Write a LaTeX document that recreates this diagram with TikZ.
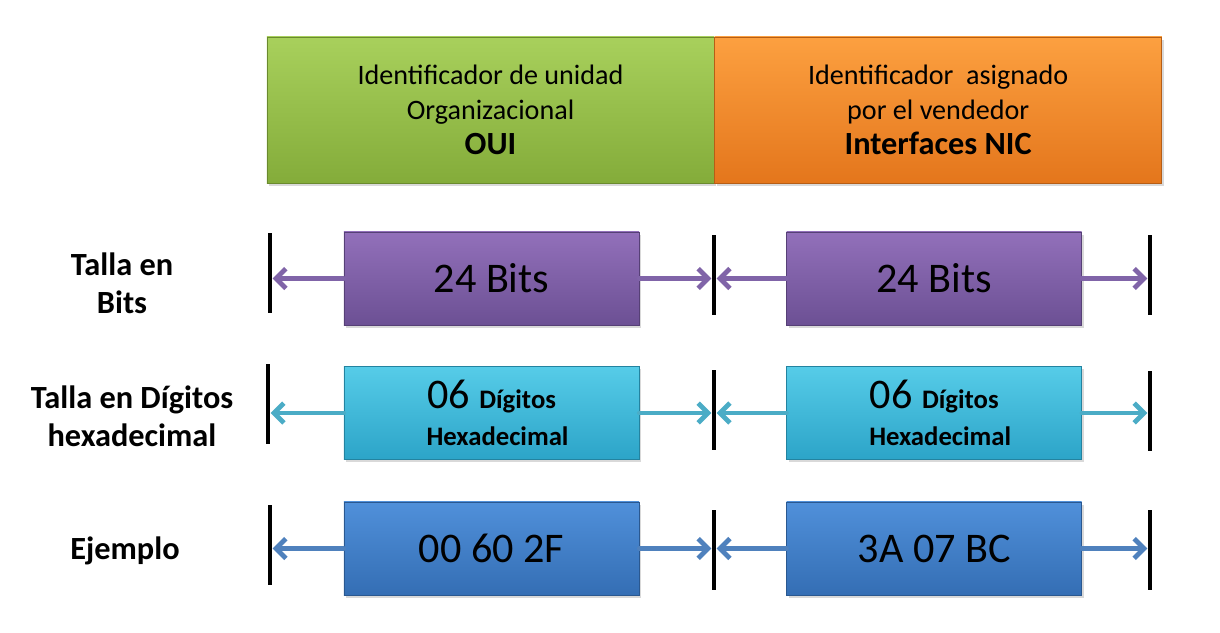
\documentclass[tikz,border=0pt]{standalone}
\usepackage{fontspec}
\setmainfont{Carlito}
\usetikzlibrary{arrows.meta,shadows,positioning}
\definecolor{ouiT}{RGB}{168,208,92}
\definecolor{ouiB}{RGB}{132,172,58}
\definecolor{nicT}{RGB}{252,160,64}
\definecolor{nicB}{RGB}{228,118,28}
\definecolor{bitT}{RGB}{146,112,186}
\definecolor{bitB}{RGB}{108,80,148}
\definecolor{hexT}{RGB}{86,204,232}
\definecolor{hexB}{RGB}{44,164,200}
\definecolor{ejT}{RGB}{80,144,218}
\definecolor{ejB}{RGB}{52,110,180}
\definecolor{bitA}{RGB}{128,100,168}
\definecolor{hexA}{RGB}{75,172,198}
\definecolor{ejA}{RGB}{79,129,189}

\begin{document}
\begin{tikzpicture}[x=0.025cm, y=-0.025cm,
    box/.style={draw=#1B!80!black, line width=0.4pt, top color=#1T, bottom color=#1B,
                drop shadow={shadow xshift=1.5pt, shadow yshift=-2pt, opacity=0.3},
                align=center, inner sep=0pt},
    hdr/.style={box=#1, minimum width=11.175cm, minimum height=3.65cm,
                font=\fontsize{20}{25}\selectfont},
    fld/.style={box=#1, minimum width=7.375cm, minimum height=2.325cm,
                font=\fontsize{30}{30}\selectfont},
    lbl/.style={font=\bfseries\fontsize{23}{27}\selectfont, align=center},
    bar/.style={fill=black, inner sep=0pt, minimum width=0.12cm, minimum height=2cm},
    arr/.style={-{Straight Barb[length=7pt, width=14pt]}, line width=3.4pt,
                line cap=round, #1},
    every node/.style={inner sep=3pt}]

    \useasboundingbox (0,0) rectangle (1220,632);

    % ── header ───────────────────────────────────────────────
    \node[hdr=oui] (oui) at (490.5,110)
      {Identificador de unidad\\Organizacional\\{\bfseries\fontsize{23}{25}\selectfont OUI}};
    \node[hdr=nic, right=0pt of oui] (nic)
      {Identificador\ \ asignado\\por el vendedor\\{\bfseries\fontsize{23}{25}\selectfont Interfaces NIC}};

    % ── talla en bits ────────────────────────────────────────
    \node[lbl] (lb) at (122,283) {Talla en\\Bits};
    \node[fld=bit] (b1) at (491.5,278.5) {24 Bits};
    \node[fld=bit, right=3.675cm of b1] (b2) {24 Bits};
    \node[bar] (bl1) at (270,273) {};
    \node[bar] (bl2) at (714,275) {};
    \node[bar] (bl3) at (1150,275) {};
    \draw[arr=bitA] (b1.west) -- (b1.west -| bl1.east);
    \draw[arr=bitA] (b1.east) -- (b1.east -| bl2.west);
    \draw[arr=bitA] (b2.west) -- (b2.west -| bl2.east);
    \draw[arr=bitA] (b2.east) -- (b2.east -| bl3.west);

    % ── talla en digitos ─────────────────────────────────────
    \node[lbl] (lh) at (132,416) {Talla en Dígitos\\hexadecimal};
    \node[fld=hex] (h1) at (491.5,413)
      {06 {\bfseries\fontsize{19}{24}\selectfont Dígitos}\\[-4pt]
       {\bfseries\fontsize{19}{24}\selectfont\ \ Hexadecimal}};
    \node[fld=hex, right=3.675cm of h1] (h2)
      {06 {\bfseries\fontsize{19}{24}\selectfont Dígitos}\\[-4pt]
       {\bfseries\fontsize{19}{24}\selectfont\ \ Hexadecimal}};
    \node[bar] (hl1) at (268,404) {};
    \node[bar] (hl2) at (714,410) {};
    \node[bar] (hl3) at (1150,411) {};
    \draw[arr=hexA] (h1.west) -- (h1.west -| hl1.east);
    \draw[arr=hexA] (h1.east) -- (h1.east -| hl2.west);
    \draw[arr=hexA] (h2.west) -- (h2.west -| hl2.east);
    \draw[arr=hexA] (h2.east) -- (h2.east -| hl3.west);

    % ── ejemplo ──────────────────────────────────────────────
    \node[lbl] (le) at (125,551) {Ejemplo};
    \node[fld=ej] (e1) at (491.5,548.5) {00 60 2F};
    \node[fld=ej, right=3.675cm of e1] (e2) {3A 07 BC};
    \node[bar] (el1) at (270,545) {};
    \node[bar] (el2) at (714,550) {};
    \node[bar] (el3) at (1150,550) {};
    \draw[arr=ejA] (e1.west) -- (e1.west -| el1.east);
    \draw[arr=ejA] (e1.east) -- (e1.east -| el2.west);
    \draw[arr=ejA] (e2.west) -- (e2.west -| el2.east);
    \draw[arr=ejA] (e2.east) -- (e2.east -| el3.west);

\end{tikzpicture}
\end{document}
